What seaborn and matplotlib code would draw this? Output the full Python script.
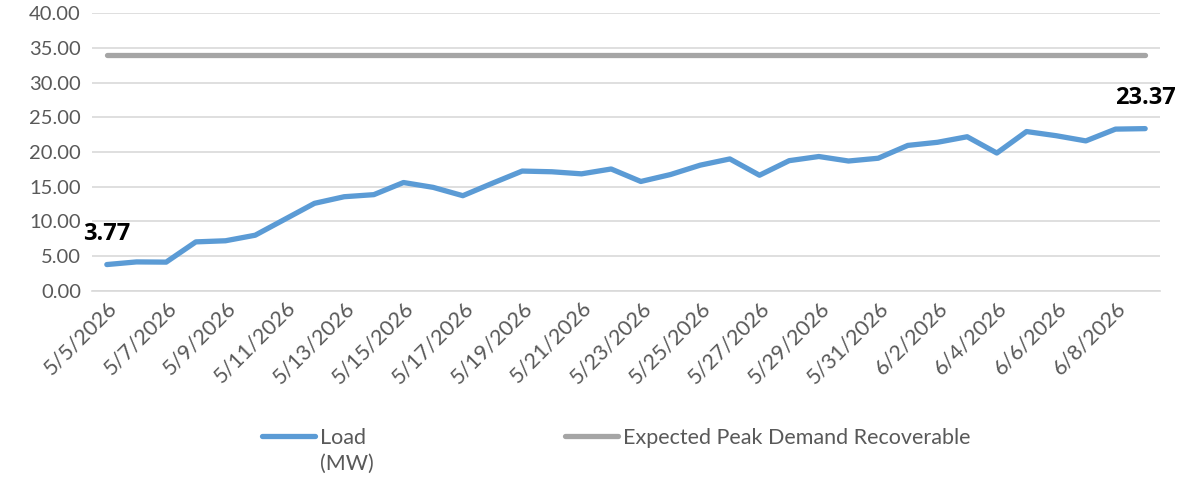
import numpy as np
import pandas as pd
import matplotlib
matplotlib.use('Agg')
import matplotlib.pyplot as plt
import seaborn as sns
from matplotlib.lines import Line2D

# data
dates = pd.date_range('2026-05-05', '2026-06-09', freq='D')
load_mw = [3.77, 4.15, 4.12, 7.04, 7.2, 8.0, 10.3, 12.6, 13.55, 13.85,
           15.6, 14.9, 13.7, 15.5, 17.25, 17.15, 16.85, 17.55, 15.75, 16.75,
           18.1, 19.0, 16.65, 18.75, 19.35, 18.7, 19.1, 20.95, 21.4, 22.2,
           19.85, 22.95, 22.35, 21.6, 23.3, 23.37]
expected_peak = 34.0
date_labels = [f"{d.month}/{d.day}/{d.year}" for d in dates]
y_ticks = [0, 5, 10, 15, 20, 25, 30, 35, 40]

df = pd.DataFrame({'pos': np.arange(len(dates)),
                   'Load': load_mw,
                   'Peak': [expected_peak] * len(dates)})

sns.set_style('white')
plt.rcParams['font.family'] = ['Lato', 'DejaVu Sans']

blue = '#5B9BD5'
gray = '#A5A5A5'
txt = '#595959'
grid = '#D9D9D9'

fig = plt.figure(figsize=(11.78, 4.83), dpi=100)
ax = fig.add_axes([92 / 1178, 1 - 290.7 / 483, (1160 - 92) / 1178, (290.7 - 13.3) / 483])

sns.lineplot(data=df, x='pos', y='Peak', color=gray, lw=3.8, ax=ax,
             solid_capstyle='round', zorder=3)
sns.lineplot(data=df, x='pos', y='Load', color=blue, lw=3.8, ax=ax,
             solid_capstyle='round', zorder=4)

ax.set_xlim(-0.5, len(dates) - 0.5)
ax.set_ylim(0, 40)
ax.set_yticks(y_ticks)
ax.set_yticklabels([f"{v:.2f}" for v in y_ticks], color=txt, fontsize=14.5)
ax.yaxis.grid(True, color=grid, lw=1.2)
ax.set_axisbelow(True)
ax.tick_params(axis='y', length=0, pad=8)

# tick marks between categories, labels on every other category
ax.set_xticks(np.arange(-0.5, len(dates), 2))
ax.set_xticklabels([])
ax.set_xticks(np.arange(0, len(dates), 2), minor=True)
ax.set_xticklabels(date_labels[::2], minor=True, rotation=45, ha='right',
                   rotation_mode='anchor', color=txt, fontsize=15.5)
ax.tick_params(axis='x', which='major', length=6, width=1.2, color=grid, direction='out')
ax.tick_params(axis='x', which='minor', length=0, pad=5)

ax.set_xlabel('')
ax.set_ylabel('')
for s in ['left', 'top', 'right']:
    ax.spines[s].set_visible(False)
ax.spines['bottom'].set_color(grid)
ax.spines['bottom'].set_linewidth(1.2)

# data labels on first and last points
for i in [0, len(load_mw) - 1]:
    ax.annotate(f"{load_mw[i]:.2f}", (i, load_mw[i]), xytext=(0, 19),
                textcoords='offset pixels', ha='center', va='bottom',
                fontsize=17, fontweight='bold', color='black',
                family=['Open Sans', 'DejaVu Sans'])

handles = [Line2D([], [], color=blue, lw=3.8, solid_capstyle='round'),
           Line2D([], [], color=gray, lw=3.8, solid_capstyle='round')]
leg = fig.legend(handles=handles, labels=['Load', 'Expected Peak Demand Recoverable'],
                 ncol=2, loc='center left', bbox_to_anchor=(262 / 1178, 1 - 438 / 483),
                 frameon=False, handlelength=2.46, handletextpad=0.23,
                 columnspacing=9.25, borderpad=0, borderaxespad=0, fontsize=15.5,
                 labelcolor=txt)

fig.canvas.draw()
bb = leg.get_texts()[0].get_window_extent()
fig.text(bb.x0 / 1178, (bb.y0 - 6) / 483, '(MW)', color=txt, fontsize=15.5,
         ha='left', va='top')

fig.savefig('out.png', dpi=100)
